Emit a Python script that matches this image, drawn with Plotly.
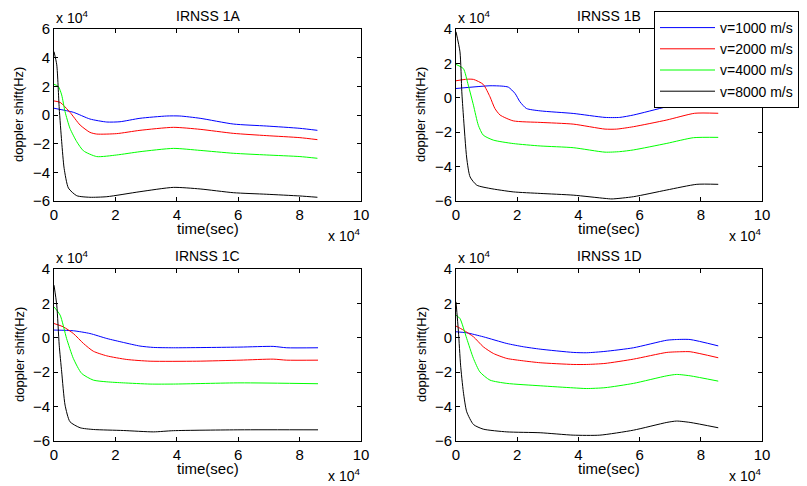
import plotly.graph_objects as go

# ---------------- data (time in units of 1e4 s, doppler in units of 1e4 Hz) ----------------
series_names = ["v=1000 m/s", "v=2000 m/s", "v=4000 m/s", "v=8000 m/s"]
series_colors = ["#0000ff", "#ff0000", "#00ff00", "#000000"]
panel_titles = ["IRNSS 1A", "IRNSS 1B", "IRNSS 1C", "IRNSS 1D"]
x_ticks = [0, 2, 4, 6, 8, 10]
y_ticks_1A = [-6, -4, -2, 0, 2, 4, 6]
y_ticks_other = [-6, -4, -2, 0, 2, 4]

# IRNSS 1A
a_blue_x = [0, 0.63, 1.17, 1.72, 2.15, 2.8, 3.67, 4.1, 4.76, 5.84, 6.93, 8.01, 8.58]
a_blue_y = [0.47, 0.19, -0.28, -0.49, -0.47, -0.23, -0.07, -0.07, -0.23, -0.63, -0.77, -0.93, -1.07]
a_red_x = [0, 0.2, 0.52, 0.85, 1.17, 1.39, 2.04, 2.8, 3.89, 4.76, 5.84, 6.93, 8.01, 8.58]
a_red_y = [0.98, 0.88, 0.19, -0.7, -1.21, -1.33, -1.3, -1.07, -0.86, -1.0, -1.28, -1.44, -1.58, -1.72]
a_green_x = [0, 0.14, 0.25, 0.36, 0.52, 0.74, 0.96, 1.39, 2.04, 2.8, 3.89, 4.76, 5.84, 6.93, 8.01, 8.58]
a_green_y = [2.14, 2.0, 1.4, 0.23, -0.93, -1.86, -2.5, -2.9, -2.79, -2.56, -2.33, -2.47, -2.67, -2.79, -2.9, -3.02]
a_black_x = [0, 0.09, 0.17, 0.25, 0.33, 0.47, 0.74, 1.17, 1.72, 2.8, 3.89, 4.76, 5.84, 6.93, 8.01, 8.58]
a_black_y = [4.42, 3.5, 0.47, -1.86, -3.72, -5.1, -5.63, -5.74, -5.7, -5.35, -5.05, -5.16, -5.42, -5.53, -5.65, -5.74]

# IRNSS 1B
b_blue_x = [0, 1.11, 1.5, 1.71, 1.93, 2.09, 2.3, 2.75, 3.83, 4.87, 5.35, 5.8, 6.89, 7.76, 7.97, 8.57]
b_blue_y = [0.54, 0.7, 0.68, 0.62, 0.25, -0.23, -0.62, -0.76, -0.91, -1.14, -1.14, -1.0, -0.52, -0.19, -0.15, -0.2]
b_red_x = [0, 0.35, 0.57, 0.89, 1.11, 1.27, 1.44, 1.87, 2.75, 3.83, 4.87, 5.25, 5.8, 6.89, 7.8, 8.57]
b_red_y = [0.99, 1.08, 1.07, 0.78, 0.06, -0.62, -1.0, -1.34, -1.43, -1.53, -1.82, -1.82, -1.68, -1.29, -0.9, -0.9]
b_green_x = [0, 0.24, 0.4, 0.57, 0.73, 0.89, 1.22, 1.87, 2.75, 3.83, 4.87, 5.35, 5.8, 6.89, 7.76, 8.57]
b_green_y = [1.94, 1.7, 0.74, -0.43, -1.6, -2.17, -2.46, -2.66, -2.8, -2.9, -3.16, -3.13, -3.03, -2.65, -2.32, -2.3]
b_black_x = [0, 0.13, 0.19, 0.24, 0.35, 0.46, 0.68, 1.11, 1.87, 2.75, 3.83, 4.87, 5.1, 5.8, 6.89, 7.87, 8.57]
b_black_y = [3.84, 2.67, 0.35, -1.0, -3.5, -4.6, -5.08, -5.27, -5.47, -5.56, -5.66, -5.85, -5.88, -5.75, -5.36, -5.03, -5.03]

# IRNSS 1C
c_blue_x = [0, 0.63, 1.17, 1.72, 2.26, 2.8, 3.24, 3.89, 6.06, 7.14, 7.58, 8.6]
c_blue_y = [0.45, 0.41, 0.25, -0.04, -0.27, -0.48, -0.56, -0.58, -0.54, -0.5, -0.58, -0.58]
c_red_x = [0, 0.3, 0.63, 0.96, 1.28, 1.72, 2.37, 3.13, 4.65, 6.06, 7.14, 7.58, 8.6]
c_red_y = [0.83, 0.64, 0.25, -0.33, -0.78, -1.05, -1.26, -1.36, -1.36, -1.3, -1.24, -1.3, -1.3]
c_green_x = [0, 0.2, 0.41, 0.63, 0.9, 1.28, 1.72, 2.26, 3.13, 3.89, 6.06, 8.6]
c_green_y = [1.8, 1.32, -0.04, -1.2, -2.07, -2.46, -2.56, -2.62, -2.69, -2.69, -2.62, -2.67]
c_black_x = [0, 0.09, 0.17, 0.25, 0.36, 0.52, 0.85, 1.28, 2.26, 3.24, 3.89, 6.06, 8.6]
c_black_y = [3.06, 1.9, -0.43, -1.98, -3.91, -4.88, -5.23, -5.33, -5.39, -5.47, -5.4, -5.35, -5.35]

# IRNSS 1D
d_blue_x = [0, 0.35, 0.89, 1.66, 2.2, 2.75, 3.83, 4.27, 4.87, 5.8, 6.89, 7.21, 7.65, 8.57]
d_blue_y = [0.35, 0.29, 0.06, -0.33, -0.52, -0.66, -0.85, -0.87, -0.79, -0.58, -0.14, -0.1, -0.1, -0.47]
d_red_x = [0, 0.24, 0.57, 0.89, 1.22, 1.66, 2.2, 2.75, 3.83, 4.27, 4.87, 5.8, 6.89, 7.35, 7.65, 8.57]
d_red_y = [0.68, 0.45, 0.06, -0.52, -0.91, -1.2, -1.34, -1.45, -1.55, -1.55, -1.49, -1.24, -0.85, -0.81, -0.81, -1.16]
d_green_x = [0, 0.13, 0.35, 0.57, 0.78, 1.11, 1.66, 2.75, 3.83, 4.27, 4.87, 5.8, 6.89, 7.21, 7.65, 8.57]
d_green_y = [1.32, 1.12, -0.04, -1.2, -1.98, -2.46, -2.65, -2.79, -2.91, -2.95, -2.9, -2.65, -2.21, -2.13, -2.21, -2.52]
d_black_x = [0, 0.08, 0.15, 0.24, 0.35, 0.57, 0.89, 1.66, 2.75, 3.83, 4.7, 5.8, 6.89, 7.21, 7.65, 8.57]
d_black_y = [2.09, 0.35, -1.59, -3.14, -4.3, -5.04, -5.31, -5.47, -5.52, -5.66, -5.66, -5.37, -4.92, -4.84, -4.92, -5.23]

panels = [
    [(a_blue_x, a_blue_y), (a_red_x, a_red_y), (a_green_x, a_green_y), (a_black_x, a_black_y)],
    [(b_blue_x, b_blue_y), (b_red_x, b_red_y), (b_green_x, b_green_y), (b_black_x, b_black_y)],
    [(c_blue_x, c_blue_y), (c_red_x, c_red_y), (c_green_x, c_green_y), (c_black_x, c_black_y)],
    [(d_blue_x, d_blue_y), (d_red_x, d_red_y), (d_green_x, d_green_y), (d_black_x, d_black_y)],
]

# ---------------- layout geometry ----------------
W, H = 807, 486
FONT = "Liberation Sans, Arial, sans-serif"
# pixel boxes of the four axes: (left, right, top, bottom)
boxes = [(54, 361, 29, 201), (456, 762, 29, 201), (54, 361, 269, 441), (456, 762, 269, 441)]

fig = go.Figure()

for i, (panel, box) in enumerate(zip(panels, boxes)):
    sfx = "" if i == 0 else str(i + 1)
    for j, (xs, ys) in enumerate(panel):
        fig.add_trace(go.Scatter(
            x=xs, y=ys, mode="lines", name=series_names[j],
            line=dict(color=series_colors[j], width=1, shape="spline", smoothing=0.6),
            xaxis="x" + sfx, yaxis="y" + sfx,
            showlegend=(i == 1), legendgroup=series_names[j],
        ))
    l, r, t, b = box
    yt = y_ticks_1A if i == 0 else y_ticks_other
    common = dict(showline=True, linecolor="black", linewidth=1, mirror="ticks",
                  ticks="inside", ticklen=4, tickcolor="black", tickwidth=1,
                  showgrid=False, zeroline=False, automargin=False,
                  tickfont=dict(family=FONT, size=15, color="black"))
    fig.update_layout(**{
        "xaxis" + sfx: dict(domain=[l / W, r / W], range=[0, 10], tickvals=x_ticks,
                            anchor="y" + sfx, **common),
        "yaxis" + sfx: dict(domain=[1 - b / H, 1 - t / H], range=[yt[0], yt[-1]], tickvals=yt,
                            anchor="x" + sfx, **common),
    })
    cx = (l + r) / 2 / W
    # panel title
    fig.add_annotation(text=panel_titles[i], x=cx, y=1 - (t - 13) / H, xref="paper", yref="paper",
                       showarrow=False, font=dict(family=FONT, size=14, color="black"),
                       xanchor="center", yanchor="middle")
    # x-axis title
    fig.add_annotation(text="time(sec)", x=cx, y=1 - (b + 27) / H, xref="paper", yref="paper",
                       showarrow=False, font=dict(family=FONT, size=15, color="black"),
                       xanchor="center", yanchor="middle")
    # y-axis title
    fig.add_annotation(text="doppler shift(Hz)", x=(l - 35) / W, y=1 - ((t + b) / 2) / H,
                       xref="paper", yref="paper", textangle=-90,
                       showarrow=False, font=dict(family=FONT, size=13, color="black"),
                       xanchor="center", yanchor="middle")
    # exponent labels
    fig.add_annotation(text="x 10<sup>4</sup>", x=l / W, y=1 - (t - 12) / H, xref="paper", yref="paper",
                       showarrow=False, font=dict(family=FONT, size=14, color="black"),
                       xanchor="left", yanchor="middle")
    fig.add_annotation(text="x 10<sup>4</sup>", x=(r + 1) / W, y=1 - (b + 34) / H, xref="paper", yref="paper",
                       showarrow=False, font=dict(family=FONT, size=14, color="black"),
                       xanchor="right", yanchor="middle")

fig.update_layout(
    width=W, height=H,
    margin=dict(l=0, r=0, t=0, b=0, autoexpand=False),
    paper_bgcolor="white", plot_bgcolor="white",
    font=dict(family=FONT, color="black"),
    legend=dict(x=654 / W, y=1 - 11 / H, xanchor="left", yanchor="top",
                bgcolor="white", bordercolor="black", borderwidth=1,
                font=dict(family=FONT, size=14, color="black"),
                tracegroupgap=0, itemwidth=55),
)

fig.write_html("out.html", config={"displayModeBar": False},
               post_script="document.body.style.margin='0px';document.body.style.overflow='hidden';")
